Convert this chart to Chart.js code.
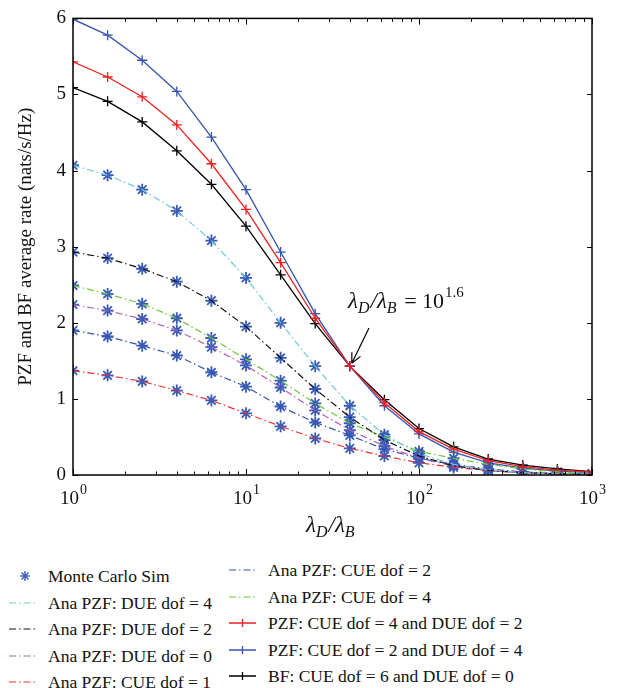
<!DOCTYPE html>
<html>
<head>
<meta charset="utf-8">
<script src="https://cdn.jsdelivr.net/npm/chart.js@4.4.0/dist/chart.umd.min.js"></script>
<style>
  body { margin: 0; background: #fff; font-family: "Liberation Serif", "Times New Roman", Times, "DejaVu Serif", serif; }
  #wrap { position: relative; width: 642px; height: 688px; overflow: hidden; }
  #c { position: absolute; left: 0; top: 0; }
  .lg { position: absolute; font-size: 17.5px; line-height: 20px; white-space: nowrap; color: #111; }
  .lg svg { position: absolute; top: 0; }
</style>
</head>
<body>
<div id="wrap">
  <canvas id="c" width="642" height="545"></canvas>
  <div id="legend"></div>
</div>
<script>
// x positions: lambda_D / lambda_B = 10^0 ... 10^3 in steps of 10^0.2
const xs = [1, 1.585, 2.512, 3.981, 6.31, 10, 15.85, 25.12, 39.81, 63.1, 100, 158.5, 251.2, 398.1, 631, 1000];

// analytical PZF curves (dash-dot)
const anaDue4 = [4.07, 3.94, 3.75, 3.47, 3.08, 2.59, 2.00, 1.43, 0.91, 0.53, 0.28, 0.14, 0.07, 0.03, 0.015, 0.01];
const anaDue2 = [2.93, 2.85, 2.71, 2.54, 2.29, 1.95, 1.54, 1.13, 0.76, 0.46, 0.25, 0.12, 0.06, 0.03, 0.015, 0.01];
const anaDue0 = [2.24, 2.16, 2.05, 1.90, 1.68, 1.44, 1.15, 0.85, 0.59, 0.38, 0.22, 0.12, 0.06, 0.03, 0.015, 0.01];
const anaCue1 = [1.37, 1.31, 1.23, 1.11, 0.98, 0.81, 0.64, 0.48, 0.35, 0.25, 0.16, 0.10, 0.06, 0.03, 0.015, 0.01];
const anaCue2 = [1.90, 1.82, 1.70, 1.57, 1.35, 1.16, 0.90, 0.69, 0.52, 0.34, 0.22, 0.14, 0.08, 0.04, 0.02, 0.01];
const anaCue4 = [2.49, 2.38, 2.25, 2.06, 1.80, 1.52, 1.24, 0.94, 0.68, 0.50, 0.31, 0.22, 0.14, 0.08, 0.04, 0.02];

// simulated curves (solid, + markers)
const pzfC4D2 = [5.43, 5.23, 4.97, 4.60, 4.09, 3.49, 2.79, 2.06, 1.43, 0.95, 0.57, 0.34, 0.19, 0.11, 0.065, 0.04];
const pzfC2D4 = [5.99, 5.78, 5.45, 5.04, 4.44, 3.75, 2.93, 2.12, 1.43, 0.91, 0.54, 0.30, 0.16, 0.09, 0.05, 0.03];
const bfC6D0  = [5.09, 4.91, 4.64, 4.26, 3.82, 3.27, 2.63, 1.99, 1.43, 0.99, 0.61, 0.37, 0.21, 0.13, 0.08, 0.045];

const yTicks = [0, 1, 2, 3, 4, 5, 6];
const xDecades = [0, 1, 2, 3];

const pts = arr => arr.map((v, i) => ({ x: xs[i], y: v }));
const DASHDOT = [7, 3, 1.5, 3];

const anaList = [
  { label: 'Ana PZF: DUE dof = 4', data: anaDue4, color: '#6cc9dc' },
  { label: 'Ana PZF: DUE dof = 2', data: anaDue2, color: '#111111' },
  { label: 'Ana PZF: DUE dof = 0', data: anaDue0, color: '#b65cb6' },
  { label: 'Ana PZF: CUE dof = 1', data: anaCue1, color: '#ee3030' },
  { label: 'Ana PZF: CUE dof = 2', data: anaCue2, color: '#3553b0' },
  { label: 'Ana PZF: CUE dof = 4', data: anaCue4, color: '#6cc83a' }
];
const solidList = [
  { label: 'PZF: CUE dof = 4 and DUE dof = 2', data: pzfC4D2, color: '#f01f1f' },
  { label: 'PZF: CUE dof = 2 and DUE dof = 4', data: pzfC2D4, color: '#3553b0' },
  { label: 'BF: CUE dof = 6 and DUE dof = 0', data: bfC6D0, color: '#000000' }
];

const datasets = [];
anaList.forEach(a => datasets.push({
  label: a.label, data: pts(a.data), borderColor: a.color, borderWidth: 1.2,
  borderDash: DASHDOT, pointRadius: 0, tension: 0
}));
solidList.forEach(a => datasets.push({
  label: a.label, data: pts(a.data), borderColor: a.color, borderWidth: 1.3,
  pointStyle: 'cross', pointRadius: 5, pointBorderColor: a.color, pointBorderWidth: 1.3, tension: 0
}));
// Monte Carlo points on every analytical curve
let mc = [];
anaList.forEach(a => { mc = mc.concat(pts(a.data)); });
datasets.push({
  label: 'Monte Carlo Sim', data: mc, showLine: false, pointStyle: 'star',
  pointRadius: 6, pointBorderColor: '#3a5bb5', pointBorderWidth: 1.8
});

const SERIF = '"Liberation Serif", "Times New Roman", Times, "DejaVu Serif", serif';

const frame = {
  id: 'frame',
  afterDraw(chart) {
    const { ctx, chartArea: a, scales: { x, y } } = chart;
    ctx.save();
    ctx.strokeStyle = '#000';
    ctx.lineWidth = 1.5;
    ctx.strokeRect(a.left, a.top, a.right - a.left, a.bottom - a.top);
    ctx.lineWidth = 1;
    ctx.beginPath();
    yTicks.forEach(t => {
      const py = Math.round(y.getPixelForValue(t)) + 0.5;
      ctx.moveTo(a.left, py); ctx.lineTo(a.left + 5, py);
      ctx.moveTo(a.right, py); ctx.lineTo(a.right - 5, py);
    });
    for (let d = 0; d < 3; d++) {
      for (let m = 1; m <= 10; m++) {
        const v = m * Math.pow(10, d);
        const px = Math.round(x.getPixelForValue(v)) + 0.5;
        const len = (m === 1 || m === 10) ? 6 : 3.5;
        ctx.moveTo(px, a.bottom); ctx.lineTo(px, a.bottom - len);
        ctx.moveTo(px, a.top); ctx.lineTo(px, a.top + len);
      }
    }
    ctx.stroke();

    // x tick labels 10^n
    ctx.fillStyle = '#111';
    ctx.textBaseline = 'alphabetic';
    xDecades.forEach(d => {
      const px = x.getPixelForValue(Math.pow(10, d));
      ctx.font = '19px ' + SERIF;
      const w1 = ctx.measureText('10').width;
      ctx.font = '14px ' + SERIF;
      const w2 = ctx.measureText(String(d)).width;
      const left = px - (w1 + w2) / 2;
      ctx.font = '19px ' + SERIF;
      ctx.textAlign = 'left';
      ctx.fillText('10', left, a.bottom + 29);
      ctx.font = '14px ' + SERIF;
      ctx.fillText(String(d), left + w1 + 1, a.bottom + 19);
    });

    // x axis title λD/λB
    const lam = (sx, sy, big, small) => {
      ctx.textAlign = 'left';
      ctx.font = 'italic ' + big + 'px ' + SERIF;
      ctx.fillText('λ', sx, sy);
      let cx = sx + ctx.measureText('λ').width;
      ctx.font = 'italic ' + small + 'px ' + SERIF;
      ctx.fillText('D', cx, sy + 5);
      cx += ctx.measureText('D').width + 1;
      ctx.font = 'italic ' + big + 'px ' + SERIF;
      ctx.fillText('/', cx, sy);
      cx += ctx.measureText('/').width;
      ctx.fillText('λ', cx, sy);
      cx += ctx.measureText('λ').width;
      ctx.font = 'italic ' + small + 'px ' + SERIF;
      ctx.fillText('B', cx, sy + 5);
      cx += ctx.measureText('B').width;
      return cx;
    };
    lam(306, a.bottom + 57, 23, 16);

    // annotation
    let ex = lam(348, 308, 23, 16);
    ctx.font = '22px ' + SERIF;
    ctx.fillText(' = 10', ex + 2, 308);
    ex += 2 + ctx.measureText(' = 10').width;
    ctx.font = '15px ' + SERIF;
    ctx.fillText('1.6', ex + 1, 297);

    // arrow to crossing point
    const tx = x.getPixelForValue(xs[8]) + 2, ty = y.getPixelForValue(1.43) - 3;
    const sx = 369, sy = 328;
    ctx.beginPath();
    ctx.lineWidth = 1.2;
    ctx.moveTo(sx, sy); ctx.lineTo(tx, ty);
    const ang = Math.atan2(ty - sy, tx - sx);
    const hl = 11;
    ctx.moveTo(tx, ty); ctx.lineTo(tx - hl * Math.cos(ang - 0.45), ty - hl * Math.sin(ang - 0.45));
    ctx.moveTo(tx, ty); ctx.lineTo(tx - hl * Math.cos(ang + 0.45), ty - hl * Math.sin(ang + 0.45));
    ctx.stroke();
    ctx.restore();
  }
};

new Chart(document.getElementById('c'), {
  type: 'line',
  data: { datasets },
  plugins: [frame],
  options: {
    responsive: false,
    animation: false,
    layout: { padding: { left: 0, right: 50, top: 14, bottom: 0 }, autoPadding: false },
    plugins: { legend: { display: false }, tooltip: { enabled: false } },
    scales: {
      x: {
        type: 'logarithmic', min: 1, max: 1000,
        grid: { display: false, drawTicks: false }, border: { display: false },
        ticks: { display: false },
        afterFit: s => { s.height = 70; }
      },
      y: {
        min: 0, max: 6,
        grid: { display: false, drawTicks: false, tickLength: 0 }, border: { display: false },
        ticks: { stepSize: 1, color: '#111', padding: 7, font: { family: SERIF, size: 19 } },
        title: { display: true, text: 'PZF and BF average rate (nats/s/Hz)', color: '#111',
                 font: { family: SERIF, size: 19 }, padding: { top: 15, bottom: 0 } },
        afterFit: s => { s.width = 73; }
      }
    }
  }
});

// HTML legend, two columns
function sample(kind, color) {
  if (kind === 'star') {
    return '<svg width="30" height="20" style="left:-38px"><g stroke="' + color + '" stroke-width="1.4">' +
      '<line x1="15" y1="5" x2="15" y2="15"/><line x1="10" y1="10" x2="20" y2="10"/>' +
      '<line x1="11.5" y1="6.5" x2="18.5" y2="13.5"/><line x1="18.5" y1="6.5" x2="11.5" y2="13.5"/></g></svg>';
  }
  if (kind === 'dash') {
    return '<svg width="30" height="20" style="left:-40px"><line x1="1" y1="10" x2="28" y2="10" stroke="' + color +
      '" stroke-width="1.2" stroke-dasharray="7 3 1.5 3"/></svg>';
  }
  return '<svg width="30" height="20" style="left:-40px"><line x1="1" y1="10" x2="28" y2="10" stroke="' + color +
    '" stroke-width="1.5"/><line x1="14.5" y1="6" x2="14.5" y2="14" stroke="' + color + '" stroke-width="1.3"/></svg>';
}
const leftItems = [['star', '#3a5bb5', 'Monte Carlo Sim']].concat(anaList.slice(0, 4).map(a => ['dash', a.color, a.label]));
const rightItems = anaList.slice(4).map(a => ['dash', a.color, a.label]).concat(solidList.map(a => ['solid', a.color, a.label]));
let html = '';
leftItems.forEach((it, i) => {
  html += '<div class="lg" style="left:48px;top:' + (566 + i * 26.5) + 'px">' + sample(it[0], it[1]) + it[2] + '</div>';
});
rightItems.forEach((it, i) => {
  html += '<div class="lg" style="left:268px;top:' + (560 + i * 26.5) + 'px">' + sample(it[0], it[1]) + it[2] + '</div>';
});
document.getElementById('legend').innerHTML = html;
</script>
</body>
</html>
